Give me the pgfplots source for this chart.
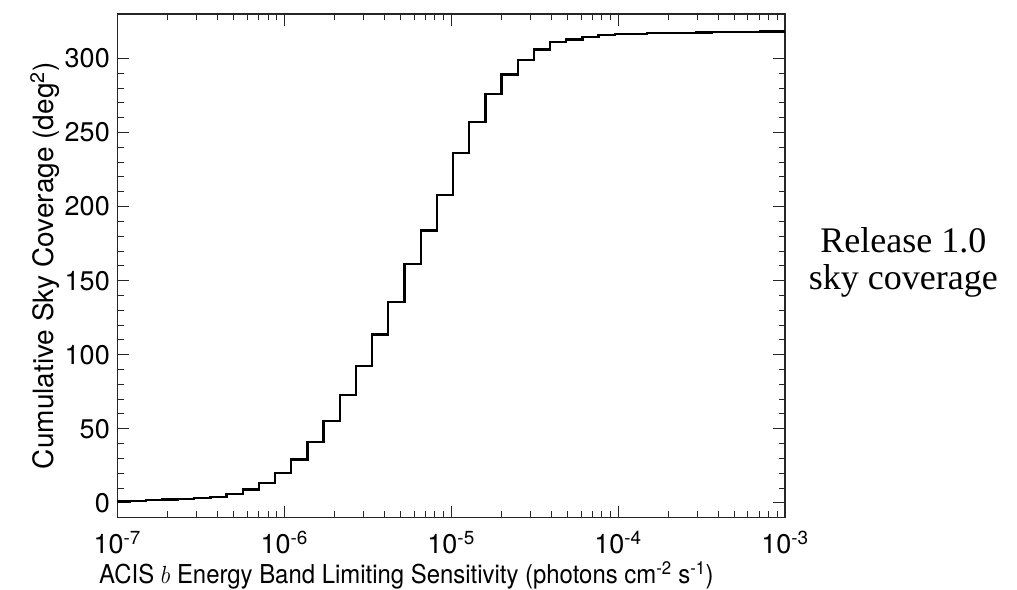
\documentclass[border=0pt]{standalone}
\usepackage{fontspec}
\setmainfont{TeX Gyre Heros}
\newfontfamily\timesfont{Liberation Serif}
\usepackage{pgfplots}
\pgfplotsset{compat=1.18}
\begin{document}
\begin{tikzpicture}
\useasboundingbox (-117.3bp,-72bp) rectangle (899.7bp,517.7bp);
\begin{axis}[
  at={(0,0)}, anchor=south west,
  scale only axis, width=667.7bp, height=503.7bp,
  xmode=log, xmin=1e-7, xmax=1e-3, ymin=-10, ymax=330,
  xtick={1e-7,1e-6,1e-5,1e-4,1e-3},
  xticklabels={10\textsuperscript{-7},10\textsuperscript{-6},10\textsuperscript{-5},10\textsuperscript{-4},10\textsuperscript{-3}},
  ytick={0,50,100,150,200,250,300}, minor y tick num=4,
  xtick pos=both, ytick pos=both, tick align=inside,
  major tick length=12bp, minor tick length=6.5bp,
  axis line style={line width=1.1bp, black!85},
  every tick/.style={black!85, line width=1bp},
  /pgf/number format/assume math mode=true,
  tick label style={font=\fontsize{27bp}{30bp}\selectfont},
  xticklabel style={anchor=base, yshift=-36bp},
  yticklabel style={anchor=east, xshift=-4bp},
  xlabel={\scalebox{0.92}[1]{ACIS $b$ Energy Band Limiting Sensitivity (photons cm\textsuperscript{-2} s\textsuperscript{-1})}},
  ylabel={Cumulative Sky Coverage (deg\textsuperscript{2})},
  xlabel style={font=\fontsize{26bp}{30bp}\selectfont, at={(axis description cs:0.433,0)}, anchor=base, yshift=-66bp},
  ylabel style={font=\fontsize{28bp}{32bp}\selectfont, at={(axis description cs:-0.1085,0.5)}, anchor=center, rotate=0},
]
\addplot[const plot, line width=2.3bp, black] coordinates {
(1e-7, 0.9)
(1.184e-7, 1.35)
(1.480e-7, 1.8)
(1.850e-7, 2.2)
(2.312e-7, 2.7)
(2.890e-7, 3.4)
(3.613e-7, 4.2)
(4.516e-7, 5.9)
(5.645e-7, 9.0)
(7.056e-7, 13.5)
(8.820e-7, 20.3)
(1.1025e-6, 29.2)
(1.378e-6, 40.9)
(1.723e-6, 55.1)
(2.153e-6, 72.7)
(2.692e-6, 92.2)
(3.365e-6, 113.6)
(4.206e-6, 135.7)
(5.257e-6, 161.1)
(6.571e-6, 183.9)
(8.214e-6, 207.7)
(1.0267e-5, 236.3)
(1.2834e-5, 257.3)
(1.604e-5, 276.2)
(2.005e-5, 289.2)
(2.507e-5, 298.9)
(3.133e-5, 306.1)
(3.916e-5, 311.2)
(4.895e-5, 312.8)
(6.119e-5, 314.4)
(7.649e-5, 316.0)
(9.56e-5, 316.4)
(1.195e-4, 316.7)
(1.494e-4, 317.0)
(1.867e-4, 317.2)
(2.334e-4, 317.4)
(2.918e-4, 317.6)
(3.647e-4, 317.8)
(4.559e-4, 317.9)
(5.699e-4, 318.0)
(7.123e-4, 318.1)
(8.90e-4, 318.2)
(1e-3, 318.2)
};
\end{axis}
\node[font=\timesfont\fontsize{36bp}{37bp}\selectfont, align=center] at (786bp,255bp) {Release 1.0\\sky coverage};
\end{tikzpicture}
\end{document}
